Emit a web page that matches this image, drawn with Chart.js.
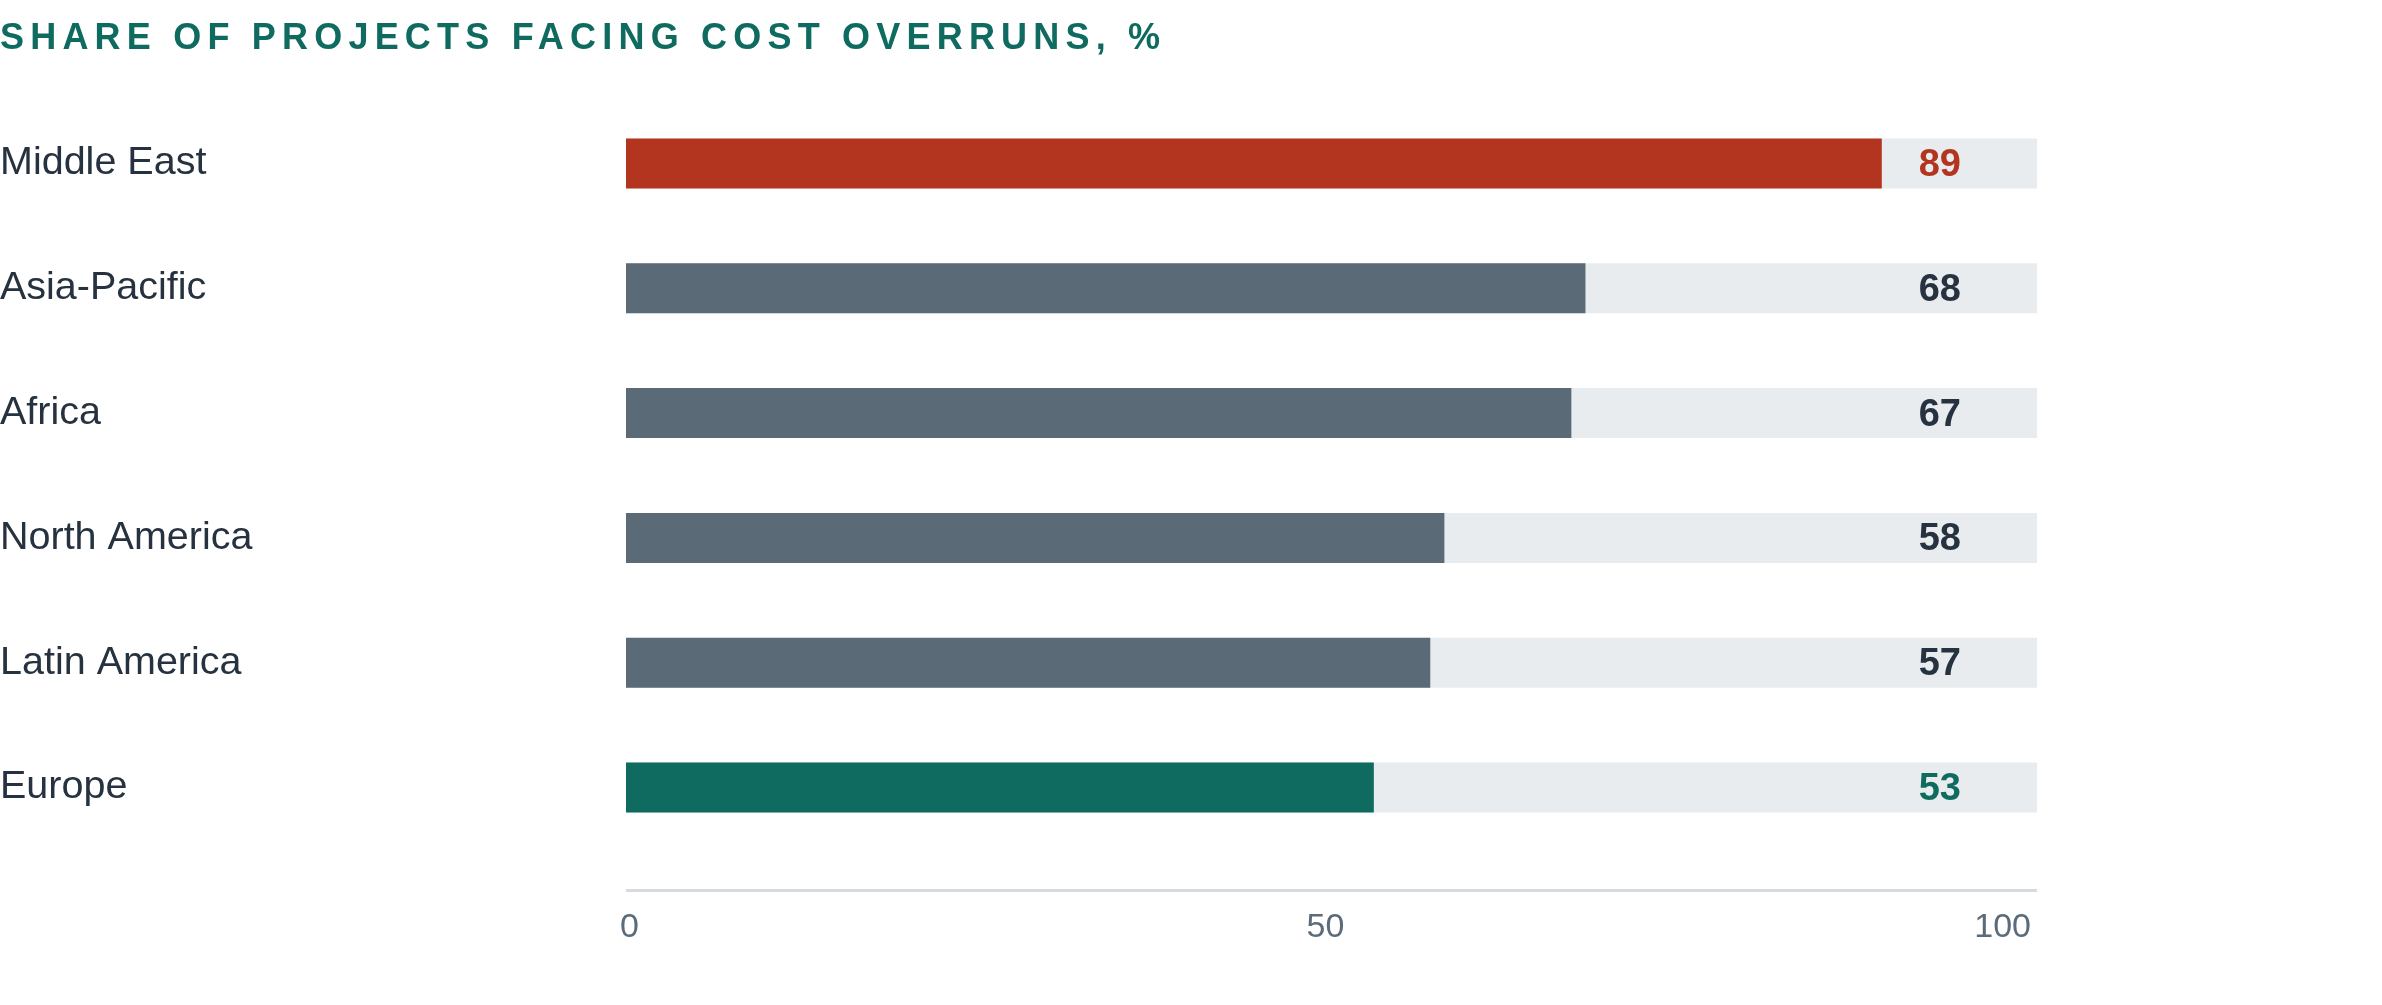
<!DOCTYPE html>
<html><head><meta charset="utf-8">
<script src="https://cdn.jsdelivr.net/npm/chart.js@4"></script>
<style>
html,body{margin:0;padding:0;background:#fff;}
#wrap{position:relative;width:2382px;height:1005px;overflow:hidden;}
#title{position:absolute;left:0;top:19px;font:bold 36px "Liberation Sans",Arial,sans-serif;line-height:36px;letter-spacing:6.2px;color:#0f6b60;white-space:nowrap;}
canvas{position:absolute;left:0;top:0;}
</style></head>
<body><div id="wrap"><canvas id="c" width="2382" height="1005"></canvas><div id="title">SHARE OF PROJECTS FACING COST OVERRUNS, %</div></div>
<script>
const categories = ["Middle East", "Asia-Pacific", "Africa", "North America", "Latin America", "Europe"];
const values = [89, 68, 67, 58, 57, 53];
const trackValues = [100, 100, 100, 100, 100, 100];
const xTickValues = [0, 50, 100];

const barColors = ["#b3351f", "#5a6b77", "#5a6b77", "#5a6b77", "#5a6b77", "#0f6b60"];
const labelColors = ["#b3351f", "#26323f", "#26323f", "#26323f", "#26323f", "#0f6b60"];
const FONT = '"Liberation Sans", Arial, sans-serif';

const decor = {
  id: 'decor',
  afterDatasetsDraw(chart) {
    const ctx = chart.ctx;
    const xs = chart.scales.x, ys = chart.scales.y;
    ctx.save();
    // axis line
    ctx.strokeStyle = '#d6dbe0';
    ctx.lineWidth = 3;
    const ly = chart.chartArea.bottom + 40.5;
    ctx.beginPath();
    ctx.moveTo(xs.getPixelForValue(xs.min), ly);
    ctx.lineTo(xs.getPixelForValue(xs.max), ly);
    ctx.stroke();
    // value labels
    ctx.font = 'bold 38px ' + FONT;
    ctx.textAlign = 'right';
    ctx.textBaseline = 'middle';
    const xr = xs.getPixelForValue(xs.max) - 76;
    values.forEach((v, i) => {
      ctx.fillStyle = labelColors[i];
      ctx.fillText(String(v), xr, ys.getPixelForValue(i) + 2);
    });
    ctx.restore();
  }
};

new Chart(document.getElementById('c'), {
  type: 'bar',
  data: {
    labels: categories,
    datasets: [
      { label: 'value', data: values, backgroundColor: barColors, barPercentage: 0.4, categoryPercentage: 1, grouped: false, order: 1 },
      { label: 'track', data: trackValues, backgroundColor: '#e9ecef', barPercentage: 0.4, categoryPercentage: 1, grouped: false, order: 2 }
    ]
  },
  options: {
    indexAxis: 'y',
    responsive: false,
    animation: false,
    devicePixelRatio: 1,
    layout: { padding: { left: 0, top: 101, right: 345, bottom: 45 } },
    plugins: { legend: { display: false }, tooltip: { enabled: false }, title: { display: false } },
    scales: {
      y: {
        type: 'category',
        grid: { display: false },
        border: { display: false },
        ticks: { color: '#26323f', font: { family: FONT, size: 39.5 }, crossAlign: 'far', padding: 0 },
        afterFit: s => { s.width = 626; }
      },
      x: {
        min: 0, max: 100,
        grid: { display: false, drawTicks: false },
        border: { display: false },
        afterBuildTicks: s => { s.ticks = xTickValues.map(v => ({ value: v })); },
        afterFit: s => { s.height = 110; },
        ticks: { color: '#5b6b79', font: { family: FONT, size: 34 }, padding: 57.5, align: 'inner', labelOffset: -6, maxRotation: 0 }
      }
    }
  },
  plugins: [decor]
});
</script>
</body></html>
